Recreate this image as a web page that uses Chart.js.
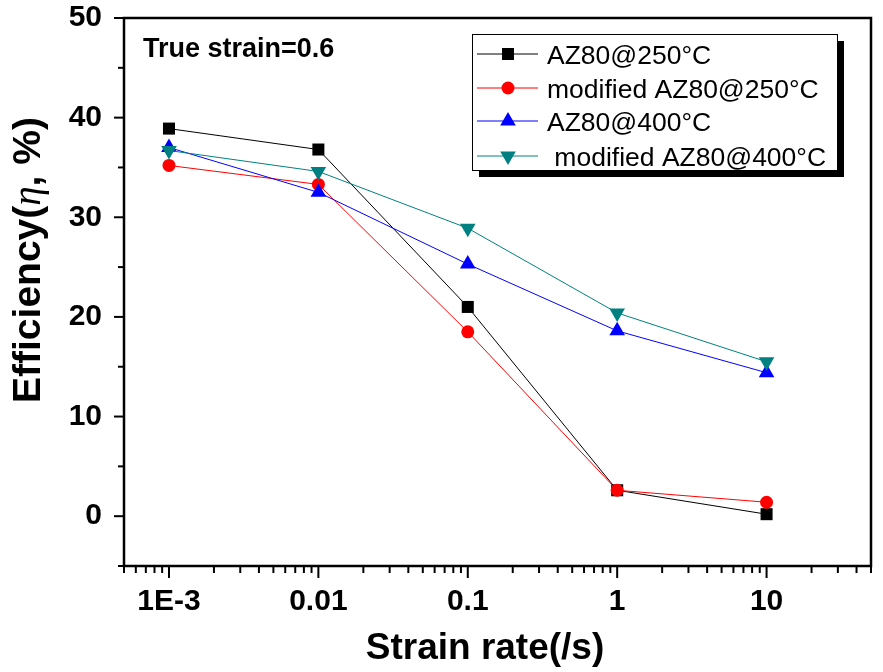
<!DOCTYPE html>
<html>
<head>
<meta charset="utf-8">
<script src="https://cdn.jsdelivr.net/npm/chart.js@4.4.0/dist/chart.umd.min.js"></script>
<style>
  html, body { margin: 0; padding: 0; background: #fff; }
  canvas { display: block; }
</style>
</head>
<body>
<canvas id="efficiencyChart" width="883" height="672"></canvas>
<script>
// Datos
const strainRates = [0.001, 0.01, 0.1, 1, 10];
const az80At250 = [38.9, 36.8, 21.0, 2.6, 0.2];
const modAz80At250 = [35.2, 33.3, 18.5, 2.6, 1.4];
const az80At400 = [37.0, 32.5, 25.3, 18.6, 14.4];
const modAz80At400 = [36.7, 34.6, 28.9, 20.4, 15.5];

const seriesNames = ['AZ80@250°C', 'modified AZ80@250°C', 'AZ80@400°C', ' modified AZ80@400°C'];
const xTickValues = [0.001, 0.01, 0.1, 1, 10];
const xTickLabels = ['1E-3', '0.01', '0.1', '1', '10'];
const yTickValues = [0, 10, 20, 30, 40, 50];

const FONT = "Arial, 'Liberation Sans', sans-serif";

function toPoints(values) {
  return strainRates.map((x, i) => ({ x: x, y: values[i] }));
}

function makeDataset(label, values, color, pointStyle, radius, rotation, order) {
  return {
    label: label,
    data: toPoints(values),
    borderColor: color,
    backgroundColor: color,
    borderWidth: 1,
    pointStyle: pointStyle,
    pointRadius: radius,
    pointRotation: rotation,
    pointBorderWidth: 0,
    pointBackgroundColor: color,
    showLine: true,
    fill: false,
    tension: 0,
    order: order
  };
}

const datasets = [
  makeDataset(seriesNames[0], az80At250, '#000000', 'rect', 8.5, 0, 4),
  makeDataset(seriesNames[1], modAz80At250, '#ff0000', 'circle', 6.5, 0, 3),
  makeDataset(seriesNames[2], az80At400, '#0000ff', 'triangle', 9, 0, 2),
  makeDataset(seriesNames[3], modAz80At400, '#008080', 'triangle', 9, 180, 1)
];

// Marco, marcas de ejes, leyenda y títulos
const decorPlugin = {
  id: 'decor',
  afterDraw(chart) {
    const ctx = chart.ctx;
    const area = chart.chartArea;
    const xs = chart.scales.x;
    const ys = chart.scales.y;
    ctx.save();
    ctx.strokeStyle = '#000';
    ctx.fillStyle = '#000';

    // marcas del eje x (log)
    ctx.lineWidth = 2;
    for (let e = -4; e <= 1; e++) {
      for (let m = 1; m <= 9; m++) {
        const v = m * Math.pow(10, e);
        if (v < xs.min * 0.999 || v > xs.max * 1.001) continue;
        const px = xs.getPixelForValue(v);
        ctx.beginPath();
        ctx.moveTo(px, area.bottom);
        ctx.lineTo(px, area.bottom + (m === 1 ? 12 : 7));
        ctx.stroke();
      }
    }
    // marcas del eje y
    for (let v = -5; v <= 50; v += 5) {
      const py = ys.getPixelForValue(v);
      ctx.beginPath();
      ctx.moveTo(area.left, py);
      ctx.lineTo(area.left - (v % 10 === 0 ? 10 : 6), py);
      ctx.stroke();
    }

    // marco
    ctx.lineWidth = 2.5;
    ctx.strokeRect(area.left, area.top, area.right - area.left, area.bottom - area.top);

    // texto interior
    ctx.font = 'bold 27px ' + FONT;
    ctx.textAlign = 'left';
    ctx.textBaseline = 'alphabetic';
    ctx.fillText('True strain=0.6', 143, 57);

    // leyenda con sombra
    const lx = 472, ly = 34, lw = 365, lh = 136;
    ctx.fillRect(lx + 7, ly + 7, lw, lh);
    ctx.fillStyle = '#fff';
    ctx.fillRect(lx, ly, lw, lh);
    ctx.lineWidth = 1;
    ctx.strokeStyle = '#000';
    ctx.strokeRect(lx + 0.5, ly + 0.5, lw, lh);
    ctx.font = '26.5px ' + FONT;
    const rowY = [54, 88, 121, 156];
    chart.data.datasets.forEach((ds, i) => {
      const y = rowY[i];
      ctx.strokeStyle = ds.borderColor;
      ctx.lineWidth = 1;
      ctx.beginPath();
      ctx.moveTo(lx + 5, y);
      ctx.lineTo(lx + 66, y);
      ctx.stroke();
      ctx.fillStyle = ds.backgroundColor;
      Chart.helpers.drawPoint(ctx, {
        pointStyle: ds.pointStyle,
        rotation: ds.pointRotation,
        radius: ds.pointRadius,
        borderWidth: 0
      }, lx + 36, y);
      ctx.fillStyle = '#000';
      ctx.fillText(ds.label, 547, y + 9.5);
    });

    // título eje x
    ctx.fillStyle = '#000';
    ctx.font = 'bold 37px ' + FONT;
    ctx.textAlign = 'center';
    ctx.fillText('Strain rate(/s)', 485, 659);

    // título eje y con eta en cursiva
    const parts = [
      { t: 'Efficiency(', f: 'bold 39px ' + FONT },
      { t: 'η', f: "italic 39px 'Liberation Serif', 'Times New Roman', serif" },
      { t: ', %)', f: 'bold 39px ' + FONT }
    ];
    let total = 0;
    parts.forEach(p => { ctx.font = p.f; p.w = ctx.measureText(p.t).width; total += p.w; });
    ctx.translate(40, 260);
    ctx.rotate(-Math.PI / 2);
    ctx.textAlign = 'left';
    let cx = -total / 2;
    parts.forEach(p => { ctx.font = p.f; ctx.fillText(p.t, cx, 0); cx += p.w; });
    ctx.restore();
  }
};

const ctx = document.getElementById('efficiencyChart').getContext('2d');
new Chart(ctx, {
  type: 'scatter',
  data: { datasets: datasets },
  options: {
    responsive: false,
    animation: false,
    layout: { padding: { top: 18, right: 12, left: 0, bottom: 0 } },
    plugins: {
      legend: { display: false },
      tooltip: { enabled: false }
    },
    scales: {
      x: {
        type: 'logarithmic',
        min: 0.0005,
        max: 50,
        grid: { display: false },
        border: { display: false },
        afterBuildTicks: scale => {
          scale.ticks = xTickValues.map(v => ({ value: v }));
        },
        afterFit: scale => {
          scale.height = 106;
          scale.paddingLeft = 0;
          scale.paddingRight = 0;
        },
        ticks: {
          autoSkip: false,
          maxRotation: 0,
          padding: 10,
          color: '#000',
          font: { family: FONT, size: 30, weight: 'bold' },
          callback: function(value) {
            const idx = xTickValues.findIndex(t => Math.abs(Math.log10(t) - Math.log10(value)) < 1e-6);
            return idx >= 0 ? xTickLabels[idx] : '';
          }
        }
      },
      y: {
        min: -5,
        max: 50,
        grid: { display: false },
        border: { display: false },
        afterBuildTicks: scale => {
          scale.ticks = yTickValues.map(v => ({ value: v }));
        },
        afterFit: scale => {
          scale.width = 124;
          scale.paddingTop = 0;
          scale.paddingBottom = 0;
        },
        ticks: {
          padding: 14,
          color: '#000',
          font: { family: FONT, size: 30, weight: 'bold' }
        }
      }
    }
  },
  plugins: [decorPlugin]
});
</script>
</body>
</html>
